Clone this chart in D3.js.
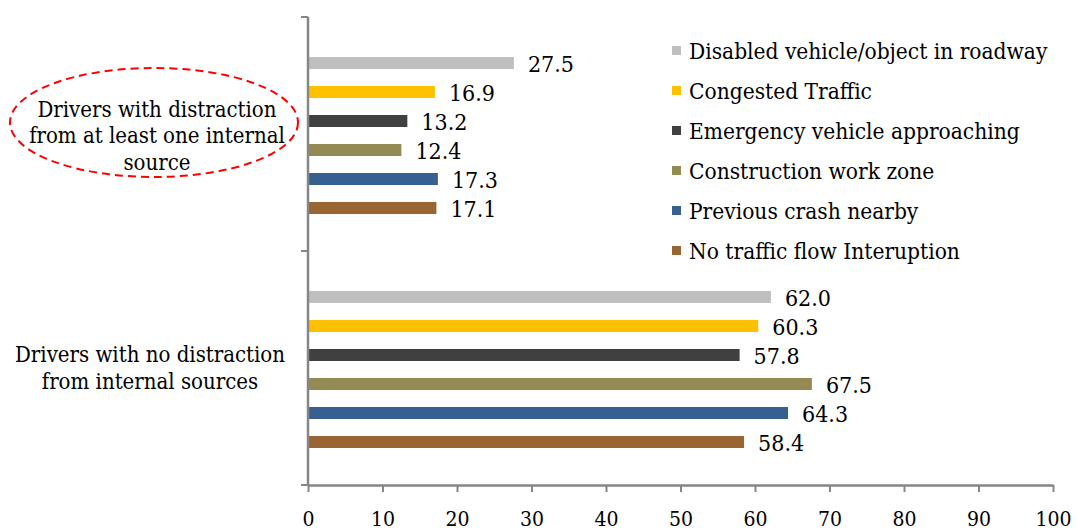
<!DOCTYPE html>
<html><head><meta charset="utf-8">
<script src="https://cdn.jsdelivr.net/npm/d3@7"></script>
<style>body{margin:0;background:#fff;} text{font-family:"DejaVu Serif Condensed","DejaVu Serif",serif;font-stretch:condensed;fill:#000;}</style>
</head><body>
<svg id="c" width="1077" height="531"></svg>
<script>
const categories = ["Drivers with distraction from at least one internal source", "Drivers with no distraction from internal sources"];
const seriesNames = ["Disabled vehicle/object in roadway", "Congested Traffic", "Emergency vehicle approaching", "Construction work zone", "Previous crash nearby", "No traffic flow Interuption"];
const seriesColors = ["#BFBFBF", "#FFC000", "#404040", "#948A54", "#376092", "#996633"];
const valuesDistracted = [27.5, 16.9, 13.2, 12.4, 17.3, 17.1];
const valuesNotDistracted = [62.0, 60.3, 57.8, 67.5, 64.3, 58.4];
const xTicks = [0, 10, 20, 30, 40, 50, 60, 70, 80, 90, 100];
const catLabelLines = [["Drivers with distraction", "from at least one internal", "source"], ["Drivers with no distraction", "from internal sources"]];

const svg = d3.select("#c");
const pL = 308, pR = 1053, pT = 17, pB = 485;
const x = d3.scaleLinear().domain([0, 100]).range([pL, pR]);
const y0 = d3.scaleBand().domain(categories).range([pT, pB]);
const y1 = d3.scaleBand().domain(seriesNames).range([40, 197]).paddingInner(17/29).paddingOuter(0);
const color = d3.scaleOrdinal().domain(seriesNames).range(seriesColors);
const allValues = [valuesDistracted, valuesNotDistracted];

// bars
categories.forEach((c, ci) => {
  const g = svg.append("g").attr("transform", `translate(0,${y0(c)})`);
  const data = seriesNames.map((s, si) => ({s, v: allValues[ci][si]}));
  g.selectAll("rect").data(data).join("rect")
    .attr("x", x(0) + 1).attr("y", d => y1(d.s))
    .attr("width", d => x(d.v) - x(0)).attr("height", y1.bandwidth())
    .attr("fill", d => color(d.s));
  g.selectAll("text.v").data(data).join("text").attr("class", "v")
    .attr("x", d => x(d.v) + 15).attr("y", d => y1(d.s) + y1.bandwidth() / 2 + 1)
    .attr("dy", "0.35em").attr("font-size", 23).text(d => d.v.toFixed(1));
});

// x axis
const xa = svg.append("g").attr("transform", `translate(0,${pB})`)
  .call(d3.axisBottom(x).tickValues(xTicks).tickSize(7).tickSizeOuter(0).tickPadding(19));
xa.select(".domain").attr("stroke", "#868686").attr("stroke-width", 2.5);
xa.selectAll(".tick line").attr("stroke", "#868686").attr("stroke-width", 2);
xa.selectAll(".tick text").attr("font-size", 21).attr("font-family", null).attr("fill", "#000");

// y axis line and category ticks
svg.append("line").attr("x1", pL).attr("x2", pL).attr("y1", pT).attr("y2", pB)
  .attr("stroke", "#868686").attr("stroke-width", 2.5);
const bounds = [y0(categories[0]), y0(categories[1]), pB];
svg.selectAll("line.ct").data(bounds).join("line").attr("class", "ct")
  .attr("x1", pL - 7).attr("x2", pL).attr("y1", d => d).attr("y2", d => d)
  .attr("stroke", "#868686").attr("stroke-width", 2);

// category labels
categories.forEach((c, ci) => {
  const lines = catLabelLines[ci];
  const cy = y0(c) + y0.bandwidth() / 2 + (ci === 0 ? 1.5 : 0);
  const cx = ci === 0 ? 157 : 150;
  const lh = 26.5;
  const t = svg.append("text").attr("text-anchor", "middle").attr("font-size", 22);
  lines.forEach((l, li) => {
    t.append("tspan").attr("x", cx).attr("y", cy + (li - (lines.length - 1) / 2) * lh).attr("dy", "0.35em").text(l);
  });
});
// dashed ellipse
svg.append("ellipse").attr("cx", 154).attr("cy", 122.5).attr("rx", 144).attr("ry", 54.5)
  .attr("fill", "none").attr("stroke", "#FF0000").attr("stroke-width", 2).attr("stroke-dasharray", "8,5");

// legend
const lg = svg.append("g");
seriesNames.forEach((s, i) => {
  const yy = 51 + i * 40;
  lg.append("rect").attr("x", 672).attr("y", yy - 5).attr("width", 9).attr("height", 9).attr("fill", color(s));
  lg.append("text").attr("x", 689).attr("y", yy).attr("dy", "0.35em").attr("font-size", 22.5).text(s);
});
</script>
</body></html>
